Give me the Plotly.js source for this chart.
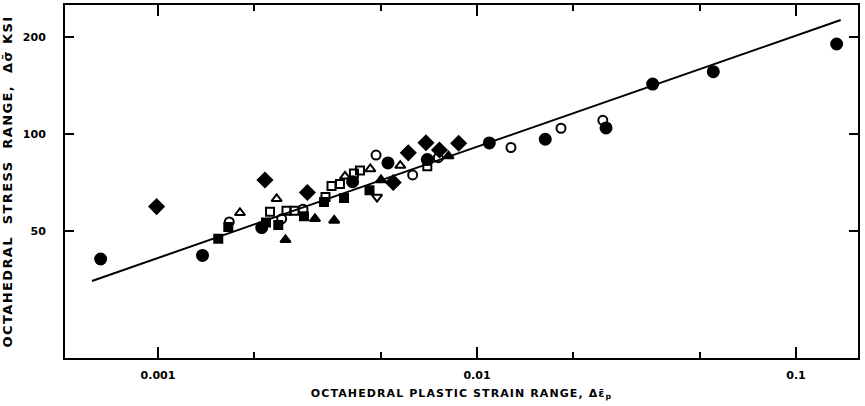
<!DOCTYPE html>
<html>
<head>
<meta charset="utf-8">
<script src="https://cdn.plot.ly/plotly-3.0.1.min.js"></script>
<style>
  html, body { margin: 0; padding: 0; background: #fff; }
  #chart { width: 865px; height: 406px; }
  .xtitle { letter-spacing: 1.1px; }
  .ytitle { letter-spacing: 1.4px; }
</style>
</head>
<body>
<div id="chart"></div>
<script>
// ---- Data (octahedral plastic strain range vs octahedral stress range, ksi) ----
const fitX = [0.000621, 0.1381];
const fitY = [34.96, 225.9];

const filledCircleX = [0.000661, 0.001379, 0.002114, 0.004075, 0.00526, 0.006986, 0.01093, 0.01637, 0.02538, 0.03554, 0.05505, 0.1341];
const filledCircleY = [40.9, 41.95, 51.2, 71.1, 81.3, 83.3, 93.8, 96.3, 104.4, 142.9, 156.2, 190.3];

const openCircleX = [0.001673, 0.002442, 0.002848, 0.004826, 0.006285, 0.007563, 0.01278, 0.01834, 0.0248];
const openCircleY = [53.3, 54.5, 58.4, 86.0, 74.6, 84.4, 90.8, 104.2, 110.3];

const filledDiamondX = [0.00099, 0.002164, 0.00294, 0.005464, 0.006089, 0.00692, 0.007627, 0.008761];
const filledDiamondY = [59.5, 71.96, 65.8, 70.7, 87.4, 93.97, 89.2, 93.6];

const filledSquareX = [0.001545, 0.001661, 0.002181, 0.002383, 0.002869, 0.003314, 0.00383, 0.004603];
const filledSquareY = [47.3, 51.4, 53.1, 52.2, 55.5, 61.5, 63.3, 66.9];

const openSquareX = [0.002245, 0.002528, 0.002679, 0.00335, 0.003499, 0.003719, 0.004114, 0.004297, 0.006986];
const openSquareY = [57.3, 57.8, 57.8, 63.7, 68.96, 69.95, 75.4, 77.0, 79.4];

const openTriangleX = [0.001807, 0.002355, 0.003857, 0.004629, 0.005748];
const openTriangleY = [56.9, 62.9, 73.9, 77.85, 79.8];

const filledTriangleX = [0.00251, 0.003105, 0.003568, 0.005002, 0.008141];
const filledTriangleY = [46.9, 54.5, 53.9, 71.96, 85.4];

const openDownTriangleX = [0.004859];
const openDownTriangleY = [63.7];

const xTickVals = [0.001, 0.01, 0.1];
const xTickText = ['0.001', '0.01', '0.1'];
const xMinorVals = [0.002, 0.005, 0.02, 0.05];
const yTickVals = [50, 100, 200];
const yTickText = ['50', '100', '200'];

// ---- Traces ----
function pts(x, y, symbol, size) {
  return {
    x: x, y: y, type: 'scatter', mode: 'markers', hoverinfo: 'skip',
    marker: { symbol: symbol, size: size, color: '#000', line: { width: 2, color: '#000' } }
  };
}

const traces = [
  { x: fitX, y: fitY, type: 'scatter', mode: 'lines', line: { color: '#000', width: 2 }, hoverinfo: 'skip' },
  pts(filledSquareX, filledSquareY, 'square', 8),
  pts(openSquareX, openSquareY, 'square-open', 8),
  pts(openTriangleX, openTriangleY, 'triangle-up-open', 9),
  pts(filledTriangleX, filledTriangleY, 'triangle-up', 9),
  pts(openDownTriangleX, openDownTriangleY, 'triangle-down-open', 9),
  pts(filledDiamondX, filledDiamondY, 'diamond', 11),
  pts(openCircleX, openCircleY, 'circle-open', 9),
  pts(filledCircleX, filledCircleY, 'circle', 11)
];

const tickFont = { family: 'DejaVu Sans', size: 11, color: '#000', weight: 'bold' };
const titleFont = { family: 'DejaVu Sans', size: 11, color: '#000', weight: 'bold' };

const layout = {
  width: 865, height: 406,
  margin: { l: 65, r: 7, t: 5, b: 48, pad: 0 },
  paper_bgcolor: '#fff', plot_bgcolor: '#fff',
  showlegend: false,
  xaxis: {
    type: 'log', range: [-3.2915, -0.8056],
    showgrid: false, zeroline: false,
    showline: true, linewidth: 2, linecolor: '#000', mirror: 'ticks',
    ticks: 'inside', ticklen: 11, tickwidth: 2, tickcolor: '#000',
    tickmode: 'array', tickvals: xTickVals, ticktext: xTickText,
    minor: { tickmode: 'array', tickvals: xMinorVals, ticks: 'inside', ticklen: 6, tickwidth: 2, tickcolor: '#000', showgrid: false },
    tickfont: tickFont, ticklabelstandoff: 6,
    title: { text: 'OCTAHEDRAL PLASTIC STRAIN RANGE, Δε̄<sub>p</sub>', font: titleFont, standoff: 8 }
  },
  yaxis: {
    type: 'log', range: [1.3043, 2.4006],
    showgrid: false, zeroline: false,
    showline: true, linewidth: 2, linecolor: '#000', mirror: 'ticks',
    ticks: 'inside', ticklen: 9, tickwidth: 2, tickcolor: '#000',
    tickmode: 'array', tickvals: yTickVals, ticktext: yTickText,
    tickfont: tickFont, ticklabelstandoff: 15,
    title: { text: 'OCTAHEDRAL  STRESS  RANGE,  Δσ̄ KSI', font: { family: 'DejaVu Sans', size: 13, color: '#000', weight: 'bold' }, standoff: 8 }
  }
};

Plotly.newPlot('chart', traces, layout, { displayModeBar: false, staticPlot: true });
</script>
</body>
</html>
